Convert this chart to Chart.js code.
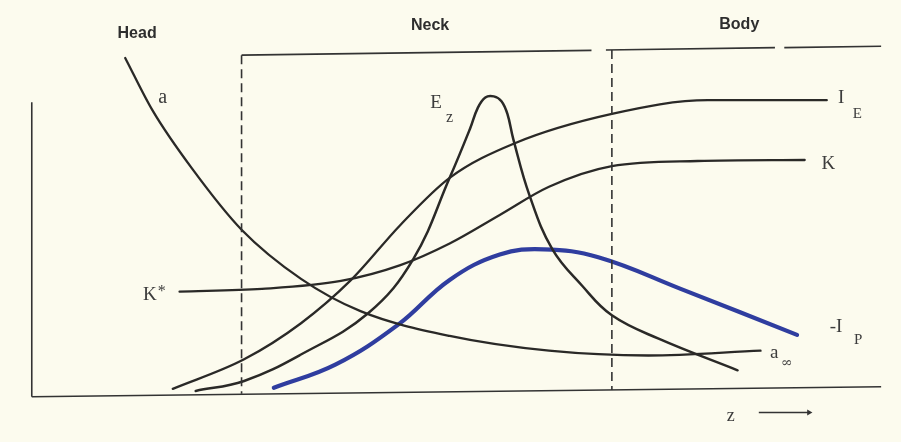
<!DOCTYPE html>
<html>
<head>
<meta charset="utf-8">
<script src="https://cdn.jsdelivr.net/npm/chart.js@4.4.1/dist/chart.umd.min.js"></script>
<style>
  html, body { margin: 0; padding: 0; background: #fcfbee; }
  canvas { display: block; }
</style>
</head>
<body>
<canvas id="chart" width="901" height="442"></canvas>
<script>
// curves (z along the jet, arbitrary units 0..10)
const aZ  = [1.10, 1.42, 1.89, 2.47, 3.17, 3.87, 4.92, 6.09, 7.26, 8.58];
const aV  = [9.86, 8.34, 6.63, 4.86, 3.43, 2.49, 1.77, 1.34, 1.20, 1.34];

const kZ  = [1.74, 2.71, 3.64, 4.34, 4.92, 5.51, 6.09, 6.83, 7.84, 9.10];
const kV  = [3.06, 3.14, 3.37, 3.83, 4.46, 5.29, 6.11, 6.71, 6.86, 6.89];

const ieZ = [1.66, 2.50, 3.17, 3.76, 4.34, 4.92, 5.68, 6.83, 7.96, 9.36];
const ieV = [0.23, 1.09, 2.14, 3.40, 5.00, 6.37, 7.37, 8.23, 8.63, 8.63];

const ezZ = [1.93, 2.50, 3.17, 3.96, 4.49, 4.92, 5.16, 5.25, 5.34, 5.44, 5.53, 5.60, 5.67, 5.86, 6.13, 6.48, 6.83, 7.38, 8.31];
const ezV = [0.17, 0.46, 1.23, 2.43, 4.00, 6.37, 7.80, 8.40, 8.71, 8.74, 8.60, 8.23, 7.49, 5.86, 4.29, 3.23, 2.37, 1.69, 0.77];

const ipZ = [2.85, 3.58, 4.31, 4.92, 5.51, 6.03, 6.67, 7.64, 9.01];
const ipV = [0.26, 0.94, 2.09, 3.40, 4.14, 4.29, 4.06, 3.14, 1.80];

// frame: region borders
const headNeckZ = 2.47;
const neckBodyZ = 6.83;

const zip = (xs, ys) => xs.map((x, i) => ({ x: x, y: ys[i] }));

const ink = '#2a2927';

// monotone for the steadily rising/falling curves, plain tension for the humps
const curve = (pts, color, width, humped) => ({
  data: pts,
  borderColor: color,
  borderWidth: width,
  pointRadius: 0,
  cubicInterpolationMode: humped ? 'default' : 'monotone',
  tension: 0.4,
  borderCapStyle: 'round',
  fill: false
});

const straight = (pts, dash) => ({
  data: pts,
  borderColor: '#333',
  borderWidth: 1.6,
  borderDash: dash || [],
  pointRadius: 0,
  tension: 0,
  spanGaps: false,
  fill: false
});

// text labels
const notes = [
  { t: 'Head', z: 1.24, v: 10.58, f: 'bold 16px "Liberation Sans", sans-serif' },
  { t: 'Neck', z: 4.69, v: 10.80, f: 'bold 16px "Liberation Sans", sans-serif' },
  { t: 'Body', z: 8.33, v: 10.84, f: 'bold 16px "Liberation Sans", sans-serif' },
  { t: 'a', z: 1.54, v: 8.71, f: '20px "Liberation Serif", serif' },
  { t: 'E', z: 4.76, v: 8.54, f: '19px "Liberation Serif", serif' },
  { t: 'z', z: 4.92, v: 8.11, f: '16px "Liberation Serif", serif' },
  { t: 'I', z: 9.53, v: 8.69, f: '19px "Liberation Serif", serif' },
  { t: 'E', z: 9.72, v: 8.23, f: '15px "Liberation Serif", serif' },
  { t: 'K', z: 9.38, v: 6.77, f: '19px "Liberation Serif", serif' },
  { t: 'K', z: 1.39, v: 2.97, f: '19px "Liberation Serif", serif' },
  { t: '*', z: 1.53, v: 3.05, f: '16px "Liberation Serif", serif' },
  { t: '-I', z: 9.47, v: 2.03, f: '19px "Liberation Serif", serif' },
  { t: 'P', z: 9.73, v: 1.66, f: '15px "Liberation Serif", serif' },
  { t: 'a', z: 8.74, v: 1.26, f: '19px "Liberation Serif", serif' },
  { t: '∞', z: 8.89, v: 0.97, f: '14px "DejaVu Serif", serif' },
  { t: 'z', z: 8.23, v: -0.57, f: '18px "Liberation Serif", serif' }
];

const paper = {
  id: 'paper',
  beforeDraw(chart) {
    const c = chart.ctx;
    c.save();
    c.fillStyle = '#fcfbee';
    c.fillRect(0, 0, chart.width, chart.height);
    c.restore();
  },
  afterDatasetsDraw(chart) {
    const c = chart.ctx, sx = chart.scales.x, sy = chart.scales.y;
    c.save();
    c.textAlign = 'center';
    c.textBaseline = 'middle';
    notes.forEach(n => {
      c.font = n.f;
      c.fillStyle = n.f.indexOf('bold') === 0 ? '#2e2e2e' : '#3c3c3c';
      c.fillText(n.t, sx.getPixelForValue(n.z), sy.getPixelForValue(n.v));
    });
    c.restore();
  }
};

new Chart(document.getElementById('chart'), {
  type: 'line',
  data: {
    datasets: [
      straight([{ x: 0, y: 0 }, { x: 0, y: 8.57 }]),
      straight([{ x: 0, y: 0 }, { x: 10, y: 0.29 }]),
      straight([{ x: headNeckZ, y: 9.94 }, { x: 6.59, y: 10.08 }, { x: 6.67, y: null },
                { x: 6.76, y: 10.09 }, { x: 8.75, y: 10.16 }, { x: 8.8, y: null },
                { x: 8.86, y: 10.16 }, { x: 10, y: 10.2 }]),
      straight([{ x: headNeckZ, y: 9.94 }, { x: headNeckZ, y: 0.09 }], [9, 5]),
      straight([{ x: neckBodyZ, y: 10.09 }, { x: neckBodyZ, y: 0.2 }], [9, 5]),
      curve(zip(aZ, aV), ink, 2.3, false),
      curve(zip(kZ, kV), ink, 2.3, false),
      curve(zip(ieZ, ieV), ink, 2.3, false),
      curve(zip(ezZ, ezV), ink, 2.5, true),
      curve(zip(ipZ, ipV), '#2f3d9f', 4.2, true),
      {
        data: [{ x: 8.56, y: -0.46 }, { x: 9.15, y: -0.46 }],
        borderColor: '#333',
        backgroundColor: '#333',
        borderWidth: 1.6,
        pointRadius: [0, 3.5],
        pointStyle: 'triangle',
        pointRotation: 90,
        pointBorderWidth: 0,
        tension: 0
      }
    ]
  },
  options: {
    responsive: false,
    animation: false,
    devicePixelRatio: 1,
    layout: { padding: 0 },
    plugins: { legend: { display: false }, tooltip: { enabled: false } },
    scales: {
      x: { type: 'linear', display: false, min: -0.327, max: 10.187 },
      y: { type: 'linear', display: false, min: -1.2, max: 11.4286 }
    }
  },
  plugins: [paper]
});
</script>
</body>
</html>
